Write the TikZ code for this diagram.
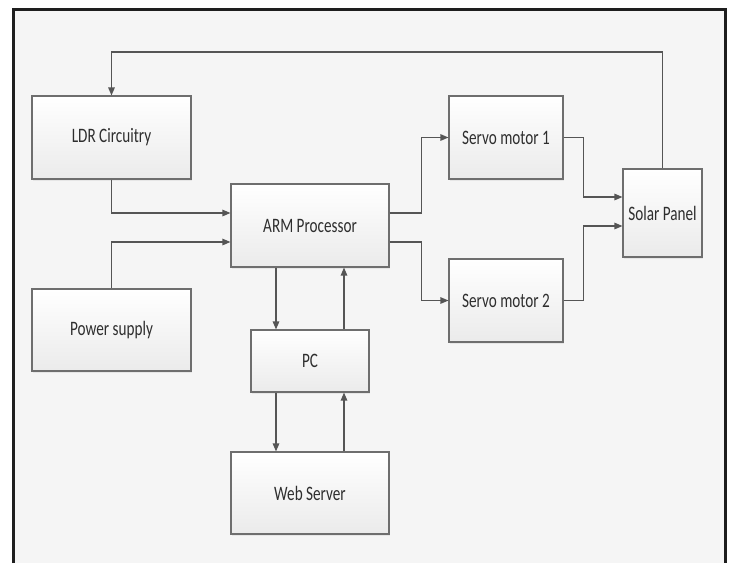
\documentclass[tikz,border=0pt]{standalone}
\usepackage{fontspec}
\setmainfont{Carlito}
\usetikzlibrary{arrows.meta,shadows}
\definecolor{bg}{HTML}{F5F5F5}
\definecolor{frame}{HTML}{1E1E1E}
\definecolor{boxline}{HTML}{6E6E6E}
\definecolor{wire}{HTML}{555555}
\definecolor{txt}{HTML}{2E2E2E}
\newcommand{\lbl}[1]{\scalebox{1}[1.35]{\fontsize{15.2pt}{18pt}\selectfont #1}}
\tikzset{
  blk/.style={draw=boxline, line width=1.1pt, top color=white, bottom color=black!8,
    text=txt, inner sep=0pt, drop shadow={opacity=0.12, shadow xshift=1.2pt, shadow yshift=-1.5pt}},
  arr/.style={draw=wire, line width=1.2pt, -{Triangle[length=8pt,width=6.5pt]}},
}
\begin{document}
\begin{tikzpicture}[x=1pt,y=-1pt]
\useasboundingbox (0,0) rectangle (730,563);
\fill[white] (0,0) rectangle (730,563);
\fill[bg] (13,9) rectangle (725,563);
\draw[frame, line width=3pt] (13,563) -- (13,9) -- (725,9) -- (725,563);

\node[blk, minimum width=159pt, minimum height=83pt] (ldr) at (111.5,137.5) {\lbl{LDR Circuitry}};
\node[blk, minimum width=159pt, minimum height=82pt] (pwr) at (111.5,330) {\lbl{Power supply}};
\node[blk, minimum width=158pt, minimum height=83pt] (arm) at (310,225.5) {\lbl{ARM Processor}};
\node[blk, minimum width=118pt, minimum height=62pt] (pc) at (310,361) {\lbl{PC}};
\node[blk, minimum width=158pt, minimum height=82pt] (web) at (310,493) {\lbl{Web Server}};
\node[blk, minimum width=114pt, minimum height=83pt] (s1) at (506,137.5) {\lbl{Servo motor 1}};
\node[blk, minimum width=114pt, minimum height=83pt] (s2) at (506,300.5) {\lbl{Servo motor 2}};
\node[blk, minimum width=79pt, minimum height=88pt] (sol) at (662.5,213) {\lbl{Solar Panel}};

\coordinate (fb) at (662.5,52);

\draw[arr] (ldr.south) |- ([yshift=12.5pt]arm.west);
\draw[arr] (pwr.north) |- ([yshift=-16.5pt]arm.west);
\draw[arr] ([yshift=12.5pt]arm.east) -- ++(32pt,0) |- (s1.west);
\draw[arr] ([yshift=-16.5pt]arm.east) -- ++(32pt,0) |- (s2.west);
\draw[arr] (s1.east) -- ++(20pt,0) |- ([yshift=16pt]sol.west);
\draw[arr] (s2.east) -- ++(20pt,0) |- ([yshift=-13pt]sol.west);
\draw[arr] (sol.north) -- (fb) -| (ldr.north);
\draw[arr] ([xshift=-34pt]arm.south) -- ([xshift=-34pt]pc.north);
\draw[arr] ([xshift=34pt]pc.north) -- ([xshift=34pt]arm.south);
\draw[arr] ([xshift=-34pt]pc.south) -- ([xshift=-34pt]web.north);
\draw[arr] ([xshift=34pt]web.north) -- ([xshift=34pt]pc.south);
\end{tikzpicture}
\end{document}
